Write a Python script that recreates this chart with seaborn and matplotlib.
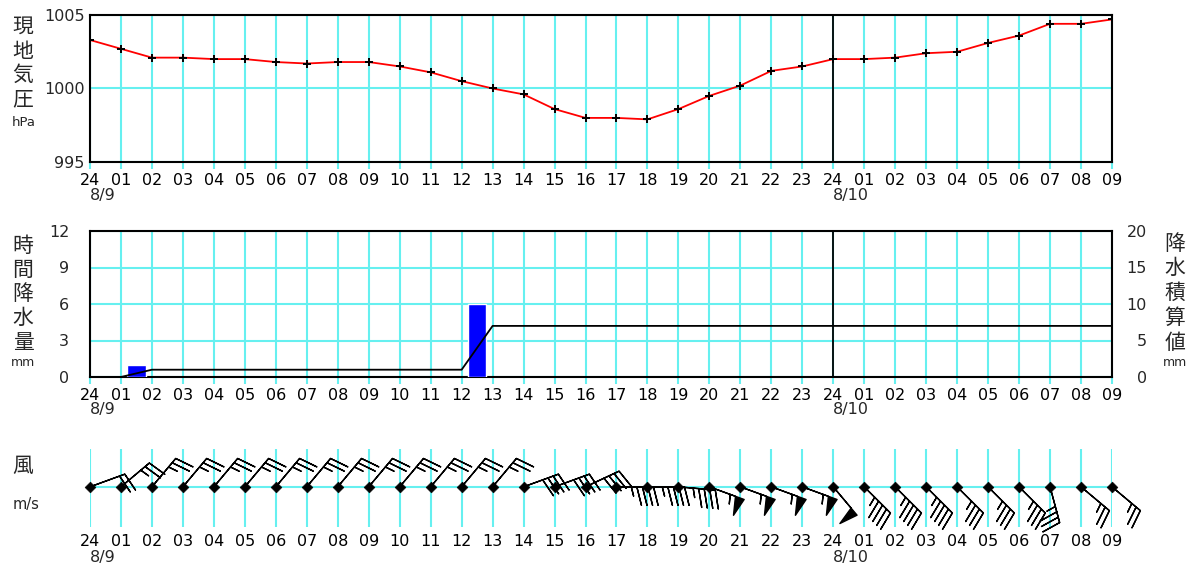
import numpy as np
import pandas as pd
import matplotlib
matplotlib.use("Agg")
import matplotlib.pyplot as plt
import seaborn as sns

# hourly data, 8/9 24h (= 8/9 00h) .. 8/10 09h
hours = list(range(34))
hour_labels = ["24"] + [f"{h:02d}" for h in range(1, 24)] + ["24"] + [f"{h:02d}" for h in range(1, 10)]
date_labels = {0: "8/9", 24: "8/10"}

pressure = [1003.3, 1002.7, 1002.1, 1002.1, 1002.0, 1002.0, 1001.8, 1001.7, 1001.8, 1001.8,
            1001.5, 1001.1, 1000.5, 1000.0, 999.6, 998.6, 998.0, 998.0, 997.9, 998.6,
            999.5, 1000.2, 1001.2, 1001.5, 1002.0, 1002.0, 1002.1, 1002.4, 1002.5, 1003.1,
            1003.6, 1004.4, 1004.4, 1004.7]

# hourly precipitation (mm), value belongs to the hour ending at that time
rain_hours = [2, 13]
rain = [1.0, 6.0]

# cumulative precipitation (mm) from 01h
cum_hours = list(range(1, 34))
cum_rain = [0.0] + [1.0] * 11 + [7.0] * 21

# wind: direction it blows from (deg) and speed (m/s)
wind_dir = [70, 50, 40, 40, 40, 40, 40, 40, 40, 40, 40, 40, 40, 40, 70, 70, 65, 90, 90, 95,
            110, 110, 110, 110, 140, 135, 135, 135, 135, 135, 135, 165, 130, 130]
wind_speed = [4, 5, 5, 5, 5, 5, 5, 5, 5, 5, 5, 5, 5, 5, 8, 8, 8, 9, 9, 9,
              11, 11, 11, 11, 10, 9, 9, 9, 7, 7, 7, 7, 5, 5]

CYAN = "#66F0F0"
W, H = 1197, 572

sns.set_theme(style="white")
plt.rcParams["font.family"] = ["DejaVu Sans", "Noto Sans CJK JP"]

fig = plt.figure(figsize=(W / 100, H / 100), dpi=100)


def box(l, t, r, b):
    return [l / W, 1 - b / H, (r - l) / W, (b - t) / H]


ax1 = fig.add_axes(box(90, 15, 1112, 162))
ax2 = fig.add_axes(box(90, 231, 1112, 377))
ax3 = fig.add_axes(box(90, 449, 1112, 527))


def style_time_axis(ax, date_y):
    ax.set_xlim(0, 33)
    ax.set_xticks(hours)
    ax.set_xticklabels(hour_labels, fontsize=11.5)
    ax.tick_params(axis="x", colors="black", length=0, pad=5)
    ax.grid(axis="x", color=CYAN, lw=1.5)
    ax.set_axisbelow(True)
    for h, lab in date_labels.items():
        ax.text(h, date_y, lab, transform=ax.get_xaxis_transform(), ha="left", va="center",
                fontsize=11.5)
    ax.set_xlabel("")
    ax.set_ylabel("")


def style_frame(ax):
    for s in ax.spines.values():
        s.set_color("black")
        s.set_linewidth(1.5)
    ax.tick_params(axis="x", which="both", bottom=True, length=5, width=1.5, color=CYAN, pad=3)
    ax.axvline(24, color="black", lw=1.3, zorder=2)


# ---- pressure
df_p = pd.DataFrame({"hour": hours, "pressure": pressure})
sns.lineplot(data=df_p, x="hour", y="pressure", ax=ax1, color="red", lw=1.3,
             marker="+", markersize=6, markeredgecolor="black", markeredgewidth=1.4)
ax1.set_ylim(995, 1005)
ax1.set_yticks([995, 1000, 1005])
ax1.set_yticklabels(["995", "1000", "1005"], fontsize=11.5)
ax1.tick_params(axis="y", length=0, pad=4)
ax1.grid(axis="y", color=CYAN, lw=1.5)
style_time_axis(ax1, -0.225)
style_frame(ax1)

# ---- precipitation
ax2.bar([h - 0.5 for h in rain_hours], rain, width=0.6, color="#0000FF", zorder=3)
ax2.set_ylim(0, 12)
ax2.set_yticks([0, 3, 6, 9, 12])
ax2.set_yticklabels(["0", "3", "6", "9", "12"], fontsize=11.5)
ax2.tick_params(axis="y", length=0, pad=15)
ax2.grid(axis="y", color=CYAN, lw=1.5)
style_time_axis(ax2, -0.22)
style_frame(ax2)

ax2b = ax2.twinx()
df_c = pd.DataFrame({"hour": cum_hours, "cum": cum_rain})
sns.lineplot(data=df_c, x="hour", y="cum", ax=ax2b, color="black", lw=1.3, zorder=4)
ax2b.set_xlim(0, 33)
ax2b.set_ylim(0, 20)
ax2b.set_yticks([0, 5, 10, 15, 20])
ax2b.set_yticklabels(["0", "5", "10", "15", "20"], fontsize=11.5)
ax2b.tick_params(axis="y", length=0, pad=25)
for lab in ax2b.get_yticklabels():
    lab.set_horizontalalignment("right")
ax2b.set_ylabel("")
ax2b.grid(False)
for s in ax2b.spines.values():
    s.set_visible(False)

# ---- wind
ax3.set_ylim(-1.03, 0.97)
ax3.set_yticks([])
for s in ax3.spines.values():
    s.set_visible(False)
ax3.axhline(0, color=CYAN, lw=1.5, zorder=1)
style_time_axis(ax3, -0.39)
ax3.tick_params(axis="x", length=0, pad=5)
rad = np.deg2rad(wind_dir)
u = -np.array(wind_speed) * np.sin(rad)
v = -np.array(wind_speed) * np.cos(rad)
ax3.barbs(hours, np.zeros(len(hours)), u, v, length=7.3, color="black", lw=1.0,
          sizes=dict(height=0.5, spacing=0.15, width=0.25),
          barb_increments=dict(half=1, full=2, flag=10), clip_on=False, zorder=3)
sns.scatterplot(x=hours, y=np.zeros(len(hours)), ax=ax3, marker="D", s=30, color="black",
                edgecolor="black", zorder=5, clip_on=False)

# ---- vertical axis titles


def px(x, y):
    return x / W, 1 - y / H


def vtext(x, ys, chars, size=15):
    for y, c in zip(ys, chars):
        fig.text(*px(x, y), c, ha="center", va="center", fontsize=size,
                 family=["Noto Sans CJK JP", "DejaVu Sans"])


vtext(23, [27, 52, 75, 99], "現地気圧")
fig.text(*px(24, 122), "hPa", ha="center", va="center", fontsize=9.5)
vtext(23, [246, 270, 294, 318, 343], "時間降水量")
fig.text(*px(23, 363), "mm", ha="center", va="center", fontsize=9)
vtext(1175, [244, 268, 293, 318, 343], "降水積算値")
fig.text(*px(1175, 363), "mm", ha="center", va="center", fontsize=9)
vtext(23, [466], "風")
fig.text(*px(26, 505), "m/s", ha="center", va="center", fontsize=10.5)

fig.savefig("out.png", dpi=100)
